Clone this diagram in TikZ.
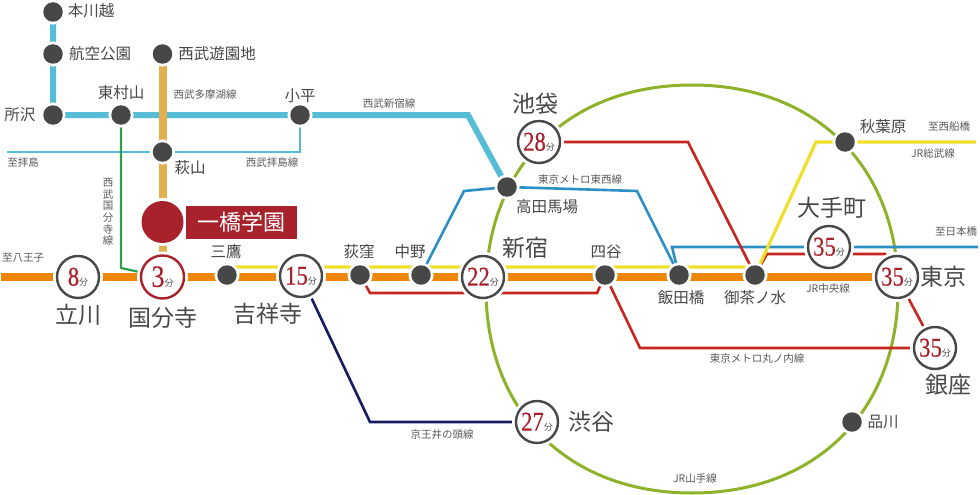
\documentclass[tikz,border=0pt]{standalone}
\usepackage{fontspec}
\setmainfont{Noto Sans CJK JP}
\newfontfamily\digitfont[FakeStretch=0.84,FakeBold=0.4]{Liberation Serif}
\usetikzlibrary{backgrounds}
\definecolor{ink}{HTML}{484848}
\definecolor{dot}{HTML}{474747}
\definecolor{crim}{HTML}{A8222B}
\definecolor{orangeL}{HTML}{EE8708}
\definecolor{yellowL}{HTML}{EFE02B}
\definecolor{redL}{HTML}{C5271F}
\definecolor{blueL}{HTML}{2C8FC6}
\definecolor{cyanL}{HTML}{57BCD6}
\definecolor{tanL}{HTML}{E3B04F}
\definecolor{greenL}{HTML}{2E9E4F}
\definecolor{navyL}{HTML}{141B5E}
\definecolor{ringL}{HTML}{8EB32B}
\newcommand{\fs}[1]{\fontsize{#1}{#1}\selectfont}
\newcommand{\fsv}{\fontsize{10.5}{11.6}\selectfont}
\newcommand{\mins}[2][27]{{\digitfont\fontsize{#1}{#1}\selectfont\textcolor{crim}{#2}}{\fontsize{9}{9}\selectfont\textcolor{ink}{分}}}
\tikzset{
  stn/.style={circle,fill=dot,inner sep=0pt,minimum size=19.5pt,preaction={draw=white,line width=5.5pt}},
  timebox/.style={circle,fill=white,draw=ink,line width=2.4pt,inner sep=0pt,minimum size=42pt,preaction={draw=white,line width=8pt}},
  redbox/.style={timebox,draw=crim,minimum size=43pt},
  big/.style={text=ink,inner sep=0pt,font=\fs{23}},
  mid/.style={text=ink,inner sep=0pt,font=\fs{15.5}},
  small/.style={text=ink!90,inner sep=0pt,font=\fs{10.5}},
  lineO/.style={orangeL,line width=8pt},
  lineY/.style={yellowL,line width=3.2pt,line join=miter},
  lineR/.style={redL,line width=2.6pt},
  lineB/.style={blueL,line width=2.6pt},
  lineC/.style={cyanL,line width=6pt},
  lineT/.style={cyanL,line width=2.6pt},
  lineA/.style={tanL,line width=8pt},
}
\begin{document}
\begin{tikzpicture}[x=1pt,y=-1pt]
\useasboundingbox (0,0) rectangle (980,495);
% stations
\node[stn] (honkawagoe) at (53,12) {};
\node[stn] (kokuko) at (53,54) {};
\node[stn] (yuenchi) at (162.5,54) {};
\node[stn] (tokorozawa) at (53,115) {};
\node[stn] (higashimurayama) at (121,115) {};
\node[stn] (kodaira) at (300,115) {};
\node[stn] (hagiyama) at (162.5,152) {};
\node[circle,fill=crim,inner sep=0pt,minimum size=42pt,preaction={draw=white,line width=6pt}] (hitotsubashi) at (162.5,222) {};
\node[fill=crim,text=white,inner sep=0pt,minimum width=111pt,minimum height=33pt,font=\fs{22}] (hitobox) at (241.5,222.5) {一橋学園};
\node[stn] (mitaka) at (227,275) {};
\node[stn] (ogikubo) at (360,275) {};
\node[stn] (nakano) at (421,275) {};
\node[stn] (yotsuya) at (605,275) {};
\node[stn] (iidabashi) at (679,275) {};
\node[stn] (ochanomizu) at (755,275) {};
\node[stn] (takadanobaba) at (507,187) {};
\node[stn] (akihabara) at (845,142) {};
\node[stn] (shinagawa) at (852,422) {};
\node[timebox] (tachikawa) at (78,277) {\mins{8}};
\node[redbox] (kokubunji) at (162.5,277) {\mins[31]{3}};
\node[timebox] (kichijoji) at (301,276) {\mins{15}};
\node[timebox] (shinjuku) at (483,277) {\mins{22}};
\node[timebox] (ikebukuro) at (539,142) {\mins{28}};
\node[timebox] (otemachi) at (829,247) {\mins{35}};
\node[timebox] (tokyo) at (897,277) {\mins{35}};
\node[timebox] (ginza) at (935,348) {\mins{35}};
\node[timebox] (shibuya) at (537,422) {\mins{27}};
% free ends
\coordinate (hachioji) at (1,277);
\coordinate (haijima) at (7,152);
\coordinate (funabashi) at (976,142);
\coordinate (nihonbashi) at (978,247);
\begin{scope}[on background layer]
  \fill[white] (0,0) rectangle (980,495);
  % ring
  \coordinate (rL) at (486,289);\coordinate (rT) at (692,85);\coordinate (rR) at (898,289);\coordinate (rB) at (692,493);
  \draw[ringL,line width=3pt] (rL) .. controls (486,166.6) and (568.4,85) .. (rT)
     .. controls (815.6,85) and (898,166.6) .. (rR)
     .. controls (898,411.4) and (815.6,493) .. (rB)
     .. controls (568.4,493) and (486,411.4) .. (rL) -- cycle;
  % thin cyan and green
  \draw[lineT] (haijima) -- (hagiyama.center) -- (300,152) -- (kodaira.center);
  \draw[greenL,line width=2.2pt] (higashimurayama.center) -- (121,268) -- (kokubunji.center);
  % cyan
  \draw[lineC] (honkawagoe.center) -- (kokuko.center) -- (tokorozawa.center) -- (higashimurayama.center) -- (kodaira.center) -- (468,115) -- (takadanobaba.center);
  % tan
  \draw[lineA] (yuenchi.center) -- (hagiyama.center) -- (hitotsubashi.center) -- (kokubunji.center);
  % navy
  \draw[navyL,line width=2.6pt] (kichijoji.center) -- (370,422) -- (shibuya.center);
  % blue
  \draw[lineB] (nakano.center) -- (464,191) -- (takadanobaba.center) -- (637,191) -- (iidabashi.center);
  \draw[lineB] (iidabashi.center) -- (672,247) -- (otemachi.center) -- (nihonbashi);
  % red
  \draw[lineR] (ikebukuro.center) -- (688,142) -- (ochanomizu.center);
  \draw[lineR] (ochanomizu.center) -- (767,254) -- (885,254) -- (tokyo.center);
  \draw[lineR] (ogikubo.center) -- (370,293) -- (597,293) -- (yotsuya.center);
  \draw[lineR] (yotsuya.center) -- (640,348) -- (ginza.center);
  \draw[lineR] (tokyo.center) -- (ginza.center);
  % yellow
  \draw[lineY] (mitaka.center) ++(0,-8) -- (744,267) -- (ochanomizu.center) -- (816,142) -- (akihabara.center) -- (funabashi);
  % orange
  \draw[lineO] (hachioji) -- (tachikawa.center) -- (kokubunji.center) -- (tokyo.center);
\end{scope}
% labels
\node[mid] (l1) at (91,11) {本川越};
\node[mid] (l2) at (100,54) {航空公園};
\node[mid] (l3) at (217,54) {西武遊園地};
\node[mid] (l4) at (20,115) {所沢};
\node[mid] (l5) at (121,93) {東村山};
\node[mid] (l6) at (300,96) {小平};
\node[mid] (l7) at (190,168) {萩山};
\node[mid] (l8) at (226,252) {三鷹};
\node[mid] (l9) at (359,252) {荻窪};
\node[mid] (l10) at (410,252) {中野};
\node[mid] (l11) at (606,252) {四谷};
\node[mid] (l12) at (547,207) {高田馬場};
\node[mid] (l13) at (883,127) {秋葉原};
\node[mid] (l14) at (681,298) {飯田橋};
\node[mid] (l15) at (755,298) {御茶ノ水};
\node[mid] (l16) at (883,422) {品川};
\node[big] (b1) at (78,315) {立川};
\node[big] (b2) at (163,318) {国分寺};
\node[big] (b3) at (268,314) {吉祥寺};
\node[big] (b4) at (525,248) {新宿};
\node[big] (b5) at (535,104) {池袋};
\node[big] (b6) at (832,208) {大手町};
\node[big] (b7) at (943,277) {東京};
\node[big] (b8) at (948,385) {銀座};
\node[big] (b9) at (591,422) {渋谷};
\node[small] (s1) at (205,95) {西武多摩湖線};
\node[small] (s2) at (389,104) {西武新宿線};
\node[small] (s3) at (23,162) {至拝島};
\node[small] (s4) at (272,162) {西武拝島線};
\node[small] (s5) at (23,258) {至八王子};
\node[small] (s6) at (580,180) {東京メトロ東西線};
\node[small] (s7) at (949,127) {至西船橋};
\node[small] (s8) at (933,154) {JR総武線};
\node[small] (s9) at (956,232) {至日本橋};
\node[small] (s10) at (828,289) {JR中央線};
\node[small] (s11) at (757,359) {東京メトロ丸ノ内線};
\node[small] (s12) at (442,435) {京王井の頭線};
\node[small] (s13) at (695,478) {JR山手線};
\node[small,align=center,font=\fsv] (s14) at (108,212) {西\\武\\国\\分\\寺\\線};
\end{tikzpicture}
\end{document}
